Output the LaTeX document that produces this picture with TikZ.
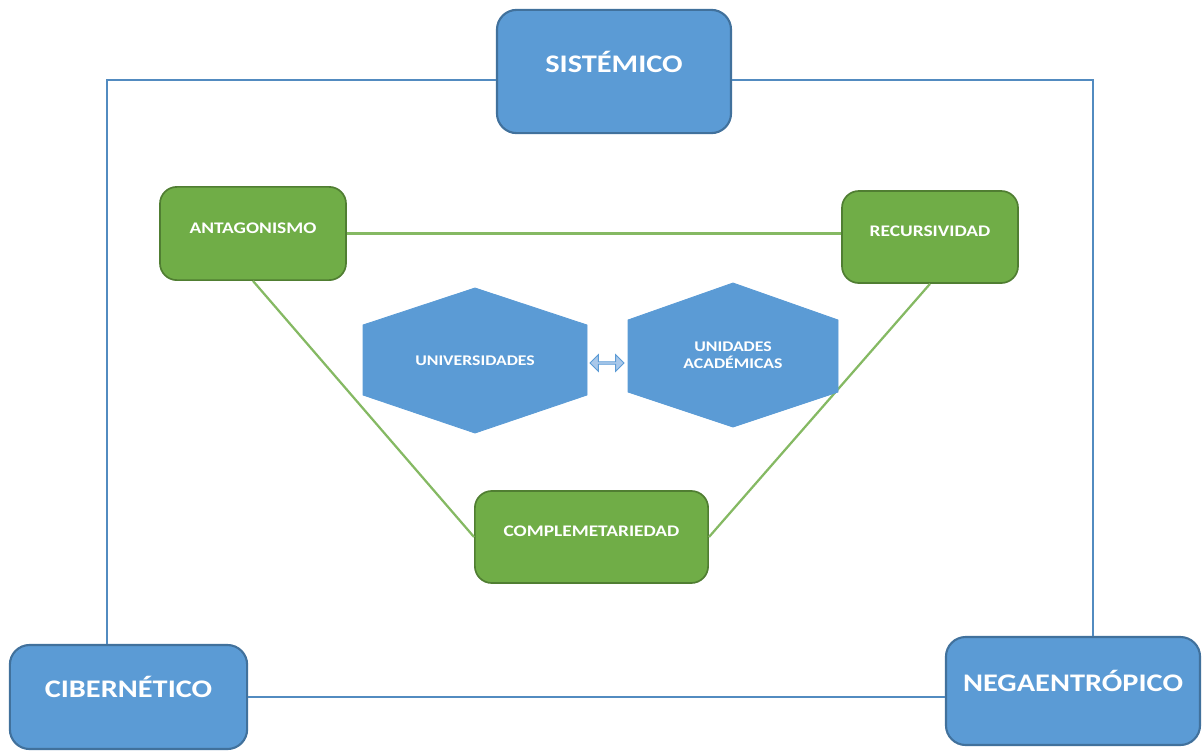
\documentclass[tikz,border=0pt]{standalone}
\usepackage{fontspec}
\setmainfont{Carlito}[FakeStretch=1.2]
\usepackage{xcolor}
\usetikzlibrary{shapes.arrows}
\definecolor{boxblue}{HTML}{5B9BD5}
\definecolor{edgeblue}{HTML}{41719C}
\definecolor{boxgreen}{HTML}{70AD47}
\definecolor{edgegreen}{HTML}{507E32}
\definecolor{lightblue}{HTML}{A9C8EA}
\tikzset{bluebox/.style={draw=edgeblue, fill=boxblue, line width=1.5pt, rounded corners=14pt,
   text=white, font=\fontsize{18}{20}\selectfont\bfseries, text height=11.4pt, text depth=10pt},
 greenbox/.style={draw=edgegreen, fill=boxgreen, line width=1.2pt, rounded corners=12pt,
   text=white, font=\fontsize{11.5}{13}\selectfont\bfseries, text height=7.3pt, text depth=8pt},
 hexa/.style={fill=boxblue, draw=boxblue, line width=0.6pt},
 hextext/.style={text=white, font=\fontsize{10.5}{12}\selectfont\bfseries, align=center},
 frame/.style={draw=boxblue!90!black, line width=2.1pt},
 link/.style={draw=boxgreen!85!white, line width=1.6pt},
 }

\begin{document}
\begin{tikzpicture}[x=0.025cm, y=-0.025cm]
        \useasboundingbox (0,0) rectangle (1204,751);

        % outer level
        \node[bluebox, minimum width=5.85cm, minimum height=3.08cm] (sis) at (614,71.5) {SISTÉMICO};
        \node[bluebox, minimum width=5.93cm, minimum height=2.6cm] (cib) at (128.5,697) {CIBERNÉTICO};
        \node[bluebox, minimum width=6.35cm, minimum height=2.7cm] (neg) at (1073,691) {NEGAENTRÓPICO};
        \coordinate (tl) at (107,80);
        \coordinate (tr) at (1093,80);

        \draw[frame] (sis.west |- tl) -- (tl) -- (cib.north -| tl);
        \draw[frame] (sis.east |- tr) -- (tr) -- (neg.north -| tr);
        \draw[frame] (cib.east) -- (cib.east -| neg.west);

        % inner level
        \node[greenbox, minimum width=4.65cm, minimum height=2.33cm] (ant) at (253,233.5) {ANTAGONISMO};
        \node[greenbox, minimum width=4.4cm, minimum height=2.3cm] (rec) at (930,237) {RECURSIVIDAD};
        \node[greenbox, minimum width=5.83cm, minimum height=2.3cm] (com) at (591.5,537) {COMPLEMETARIEDAD};

        \draw[link] (ant.east) -- (ant.east -| rec.west);
        \draw[link] (ant.south) -- (com.west);
        \draw[link] (rec.south) -- (com.east);

        % hexagons
        \draw[hexa] (475,288) -- (587,325) -- (587,395) -- (475,433) -- (363,395) -- (363,325) -- cycle;
        \draw[hexa] (733,283) -- (838,320) -- (838,392) -- (733,427) -- (628,392) -- (628,320) -- cycle;
        \node[hextext] (uni) at (475,361) {UNIVERSIDADES};
        \node[hextext] (aca) at (733,355) {UNIDADES\\ACADÉMICAS};
        \node[double arrow, fill=lightblue, draw=boxblue, line width=0.6pt, minimum width=0.42cm,
              minimum height=0.85cm, double arrow head extend=0.06cm, inner sep=0pt] (dbl) at (607,363) {};
\end{tikzpicture}
\end{document}
